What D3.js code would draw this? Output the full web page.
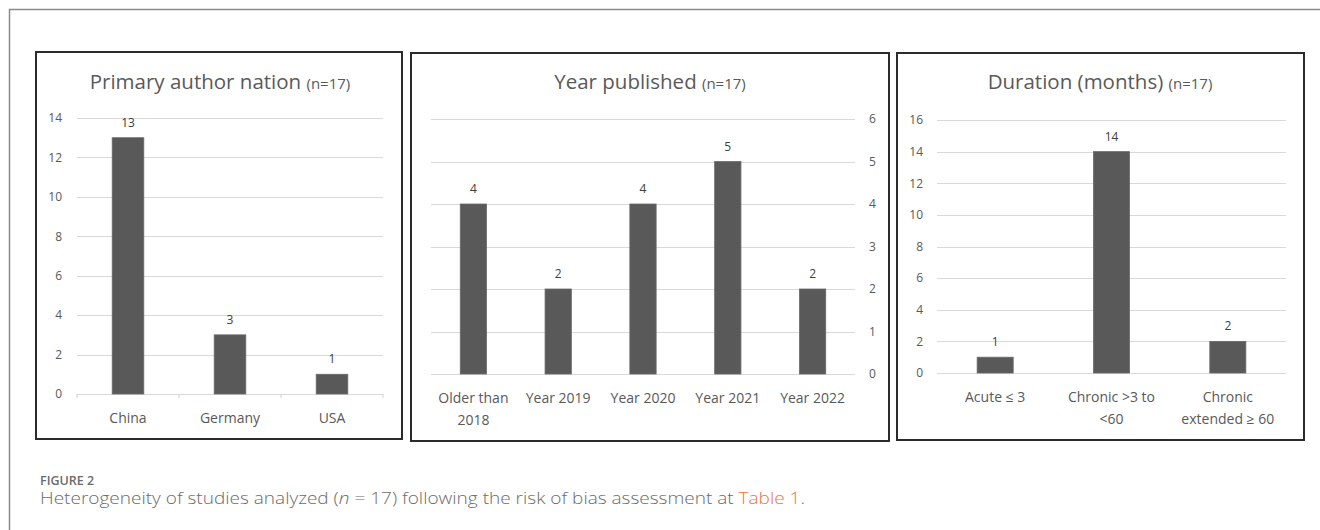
<!DOCTYPE html>
<html>
<head>
<meta charset="utf-8">
<script src="https://cdn.jsdelivr.net/npm/d3@7"></script>
<style>
  body { margin: 0; background: #fff; }
  svg { display: block; }
  text { font-family: "Open Sans", Lato, sans-serif; }
</style>
</head>
<body>
<svg id="chart" width="1320" height="530"></svg>
<script>
// data
var nationCats = ["China", "Germany", "USA"];
var nationVals = [13, 3, 1];
var nationTicks = [0, 2, 4, 6, 8, 10, 12, 14];

var yearCats = ["Older than\n2018", "Year 2019", "Year 2020", "Year 2021", "Year 2022"];
var yearVals = [4, 2, 4, 5, 2];
var yearTicks = [0, 1, 2, 3, 4, 5, 6];

var durationCats = ["Acute \u2264 3", "Chronic >3 to\n<60", "Chronic\nextended \u2265 60"];
var durationVals = [1, 14, 2];
var durationTicks = [0, 2, 4, 6, 8, 10, 12, 14, 16];

var svg = d3.select("#chart");

// outer frame (top + left only visible)
svg.append("path")
  .attr("d", "M9.5,530 V9.5 H1320")
  .attr("fill", "none")
  .attr("stroke", "#8a8a8a")
  .attr("stroke-width", 1.5);

//////////////////////////////////////////////////////////////////////////////

function drawPanel(p) {
  var g = svg.append("g");

  g.append("rect")
    .attr("x", p.box[0])
    .attr("y", p.box[1])
    .attr("width", p.box[2])
    .attr("height", p.box[3])
    .attr("fill", "#fff")
    .attr("stroke", "#2b2b2b")
    .attr("stroke-width", 2);

  var xScale = d3.scaleBand()
    .domain(p.cats)
    .range([p.x0, p.x1])
    .paddingInner(0.69)
    .paddingOuter(0.345);

  var yScale = d3.scaleLinear()
    .domain([0, d3.max(p.ticks)])
    .range([p.yBottom, p.yTop]);

  // gridlines
  g.append("g")
    .selectAll("line")
    .data(p.ticks)
    .enter()
    .append("line")
    .attr("x1", p.x0)
    .attr("x2", p.x1)
    .attr("y1", function(d) { return Math.round(yScale(d)) + 0.5; })
    .attr("y2", function(d) { return Math.round(yScale(d)) + 0.5; })
    .attr("stroke", "#d9d9d9")
    .attr("stroke-width", 1.2);

  // y axis labels
  var axis = p.right ? d3.axisRight(yScale) : d3.axisLeft(yScale);
  var ax = g.append("g")
    .attr("transform", "translate(" + p.axisX + ",0)")
    .call(axis.tickValues(p.ticks).tickFormat(d3.format("d")).tickSize(0).tickPadding(0));
  ax.select(".domain").remove();
  ax.selectAll("text")
    .attr("fill", "#595959")
    .style("font-size", "12px")
    .style("font-family", "'Open Sans', sans-serif");

  // little category ticks below baseline
  if (p.catTicks) {
    var edges = p.cats.map(function(c) { return xScale(c) - xScale.step() * xScale.paddingInner() / 2; });
    edges.push(p.x1);
    edges[0] = p.x0;
    g.append("g")
      .selectAll("line")
      .data(edges)
      .enter()
      .append("line")
      .attr("x1", function(d) { return d; })
      .attr("x2", function(d) { return d; })
      .attr("y1", p.yBottom)
      .attr("y2", p.yBottom + 4)
      .attr("stroke", "#d9d9d9")
      .attr("stroke-width", 1.2);
  }

  // bars
  g.append("g")
    .selectAll("rect")
    .data(p.vals)
    .enter()
    .append("rect")
    .attr("x", function(d, i) { return xScale(p.cats[i]); })
    .attr("y", function(d) { return yScale(d); })
    .attr("width", xScale.bandwidth())
    .attr("height", function(d) { return p.yBottom - yScale(d); })
    .attr("fill", "#595959")
    .attr("stroke", "#6a6a6a")
    .attr("stroke-width", 0.8);

  // value labels
  g.append("g")
    .selectAll("text")
    .data(p.vals)
    .enter()
    .append("text")
    .attr("x", function(d, i) { return xScale(p.cats[i]) + xScale.bandwidth() / 2; })
    .attr("y", function(d) { return yScale(d) - 11; })
    .attr("text-anchor", "middle")
    .attr("fill", "#404040")
    .style("font-size", "12px")
    .text(function(d) { return d; });

  // category labels (may wrap to two lines)
  var cl = g.append("g")
    .selectAll("text")
    .data(p.cats)
    .enter()
    .append("text")
    .attr("x", function(c) { return xScale(c) + xScale.bandwidth() / 2; })
    .attr("y", p.yBottom + 29)
    .attr("text-anchor", "middle")
    .attr("fill", "#595959")
    .style("font-size", "14px");
  cl.each(function(c) {
    var lines = c.split("\n");
    var t = d3.select(this);
    lines.forEach(function(l, i) {
      t.append("tspan")
        .attr("x", t.attr("x"))
        .attr("dy", i === 0 ? 0 : 22)
        .text(l);
    });
  });

  // title
  var title = g.append("text")
    .attr("x", p.titleX)
    .attr("y", 89)
    .attr("text-anchor", "middle")
    .attr("fill", "#595959")
    .style("font-size", "20.5px");
  title.append("tspan").text(p.title + " ");
  title.append("tspan").style("font-size", "15px").text("(n=17)");
}

drawPanel({
  box: [36, 52, 366, 387],
  cats: nationCats, vals: nationVals, ticks: nationTicks,
  x0: 77, x1: 383, yTop: 118, yBottom: 394,
  axisX: 62, right: false, catTicks: true,
  title: "Primary author nation", titleX: 220
});

drawPanel({
  box: [411, 53, 478, 388],
  cats: yearCats, vals: yearVals, ticks: yearTicks,
  x0: 431, x1: 855, yTop: 119, yBottom: 374,
  axisX: 869, right: true, catTicks: false,
  title: "Year published", titleX: 650
});

drawPanel({
  box: [897, 53, 407, 387],
  cats: durationCats, vals: durationVals, ticks: durationTicks,
  x0: 937, x1: 1286, yTop: 120, yBottom: 373,
  axisX: 923, right: false, catTicks: false,
  title: "Duration (months)", titleX: 1100
});

//////////////////////////////////////////////////////////////////////////////
// caption

svg.append("text")
  .attr("x", 40)
  .attr("y", 485)
  .attr("fill", "#6b6b6b")
  .style("font-size", "12.5px")
  .style("font-weight", "600")
  .text("FIGURE 2");

var cap = svg.append("text")
  .attr("x", 40)
  .attr("y", 504)
  .attr("fill", "#6b6b6b")
  .style("font-size", "15.5px")
  .style("font-weight", "300")
  .attr("textLength", 765)
  .attr("lengthAdjust", "spacingAndGlyphs");
cap.append("tspan").text("Heterogeneity of studies analyzed (");
cap.append("tspan").style("font-style", "italic").text("n");
cap.append("tspan").text(" = 17) following the risk of bias assessment at ");
cap.append("tspan").attr("fill", "#e8763a").text("Table 1");
cap.append("tspan").text(".");
</script>
</body>
</html>
